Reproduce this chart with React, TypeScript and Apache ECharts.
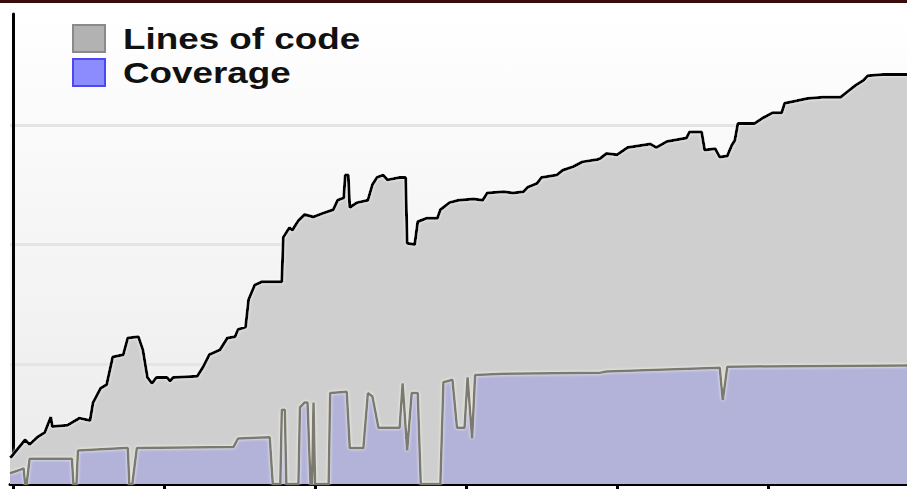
import React, { useEffect, useRef } from "react";
import * as echarts from "echarts";

// x positions (commit index) and values (thousands of lines)
const locX = [-2, -1, 8, 11, 16, 21, 25, 26, 36, 44, 51, 53, 58, 62, 66, 73, 76, 83, 86, 89, 92, 95, 102, 104, 106, 122, 126, 130, 137, 142, 147, 149, 154, 156, 160, 165, 178, 179, 183, 185, 189, 193, 199, 205, 212, 215, 219, 220, 222, 223, 228, 235, 238, 241, 245, 248, 256, 260, 261, 266, 268, 274, 281, 283, 289, 295, 305, 311, 314, 325, 331, 338, 341, 347, 350, 360, 364, 371, 377, 387, 389, 393, 400, 407, 422, 426, 433, 446, 448, 456, 458, 465, 468, 473, 476, 478, 480, 491, 497, 503, 509, 511, 519, 526, 536, 548, 552, 558, 563, 566, 576, 592];
const locY = [2.2, 2.3, 3.7, 3.3, 3.9, 4.3, 5.6, 4.8, 4.9, 5.5, 5.3, 6.8, 8.0, 8.3, 10.6, 10.8, 12.2, 12.3, 11.2, 8.9, 8.4, 8.9, 8.9, 8.6, 8.9, 9.0, 9.8, 10.8, 11.2, 12.2, 12.3, 12.9, 13.1, 15.4, 16.6, 16.9, 16.9, 20.6, 21.4, 21.2, 22.0, 22.5, 22.3, 22.6, 22.9, 23.7, 23.9, 25.8, 25.8, 23.1, 23.5, 23.7, 25.0, 25.6, 25.8, 25.4, 25.6, 25.6, 20.1, 20.0, 21.9, 22.2, 22.2, 22.9, 23.5, 23.7, 23.8, 23.7, 24.3, 24.4, 24.3, 24.4, 24.8, 25.1, 25.6, 25.8, 26.2, 26.5, 26.9, 27.1, 27.2, 27.6, 27.5, 28.1, 28.4, 28.1, 28.6, 28.9, 29.4, 29.4, 27.9, 28.0, 27.3, 27.4, 28.3, 28.7, 30.1, 30.1, 30.6, 31.0, 31.0, 31.8, 32.0, 32.2, 32.3, 32.3, 32.7, 33.3, 33.7, 34.1, 34.2, 34.2];

const covX = [-2, 5, 7, 8, 9, 11, 39, 40, 42, 43, 74, 76, 77, 79, 82, 146, 149, 170, 172, 177, 178, 180, 181, 189, 190, 193, 195, 197, 198, 199, 200, 209, 210, 221, 223, 232, 235, 238, 242, 256, 258, 261, 264, 268, 270, 283, 285, 291, 294, 299, 301, 304, 306, 325, 389, 393, 468, 470, 473, 592];
const covY = [0.9, 1.2, 1.3, 0, 0, 2.1, 2.1, 0, 0, 2.8, 3.0, 3.0, 0, 0, 3.0, 3.1, 3.8, 3.9, 0, 0, 6.2, 6.2, 0, 0, 6.4, 6.8, 6.8, 0, 0, 6.8, 0, 0, 7.6, 7.7, 3.0, 3.0, 7.6, 7.3, 4.7, 4.7, 8.4, 2.8, 7.6, 7.6, 0, 0, 8.5, 8.7, 4.7, 4.7, 8.9, 3.8, 9.1, 9.2, 9.3, 9.4, 9.7, 7.0, 9.8, 9.9];

const xTicks = [0, 100, 200, 300, 400, 500];
const seriesNames = ["Lines of code", "Coverage"];
const legendFills = ["#b2b2b2", "#8c8cff"];
const legendBorders = ["#8a8a8a", "#4a4af0"];

export default function App() {
  const ref = useRef<HTMLDivElement>(null);
  useEffect(() => {
    if (!ref.current) return;
    const chart = echarts.init(ref.current, null, { renderer: "svg" });
    const loc = locX.map((x, i) => [x, locY[i]]);
    const cov = covX.map((x, i) => [x, covY[i]]);
    const legendItems: any[] = [];
    seriesNames.forEach((name, i) => {
      const top = 25 + i * 34;
      legendItems.push({
        type: "rect",
        x: 73,
        y: top,
        shape: { x: 0, y: 0, width: 32, height: 27 },
        style: { fill: legendFills[i], stroke: legendBorders[i], lineWidth: 2 },
        z: 50,
      });
      legendItems.push({
        type: "text",
        x: 123,
        y: top + 14,
        scaleX: 1.27,
        style: {
          text: name,
          x: 0,
          y: 0,
          fontFamily: "Liberation Sans",
          fontWeight: "bold",
          fontSize: 29,
          fill: "#111111",
          align: "left",
          verticalAlign: "middle",
        },
        z: 50,
      });
    });
    chart.setOption({
      animation: false,
      backgroundColor: "#ffffff",
      graphic: [
        { type: "rect", left: 0, top: 0, shape: { width: 907, height: 3 }, style: { fill: "#3a0d0d" }, z: 100 },
        ...legendItems,
      ],
      grid: {
        left: 10,
        top: 14,
        width: 897,
        height: 470,
        show: true,
        borderWidth: 0,
        backgroundColor: {
          type: "linear", x: 0, y: 0, x2: 0, y2: 1,
          colorStops: [
            { offset: 0, color: "#ffffff" },
            { offset: 1, color: "#ebebeb" },
          ],
        },
      },
      xAxis: {
        type: "value",
        min: -2,
        max: 592,
        axisLine: { show: true, lineStyle: { color: "#000000", width: 3 } },
        axisTick: { show: true, customValues: xTicks, length: 5, lineStyle: { color: "#000000", width: 3 } },
        axisLabel: { show: false },
        splitLine: { show: false },
      },
      yAxis: {
        type: "value",
        min: 0,
        max: 39.25,
        interval: 10,
        axisLine: { show: true, lineStyle: { color: "#000000", width: 3 } },
        axisTick: { show: false },
        axisLabel: { show: false },
        splitLine: { show: true, showMaxLine: false, showMinLine: false, lineStyle: { color: "#e4e4e4", width: 3 } },
      },
      series: [
        {
          name: seriesNames[0],
          type: "line",
          data: loc,
          showSymbol: false,
          color: legendFills[0],
          lineStyle: { color: "#000000", width: 3, shadowColor: "rgba(255,255,255,0.9)", shadowBlur: 3 },
          areaStyle: { color: "#cfcfcf", opacity: 1 },
          z: 2,
        },
        {
          name: seriesNames[1],
          type: "line",
          data: cov,
          showSymbol: false,
          color: legendFills[1],
          lineStyle: { color: "#7a7a70", width: 2.5, shadowColor: "rgba(255,255,240,0.9)", shadowBlur: 3 },
          areaStyle: { color: "#b3b3da", opacity: 1 },
          z: 3,
        },
      ],
    });
    return () => chart.dispose();
  }, []);
  return <div ref={ref} style={{ position: "fixed", left: 0, top: 0, width: 907, height: 495 }} />;
}
